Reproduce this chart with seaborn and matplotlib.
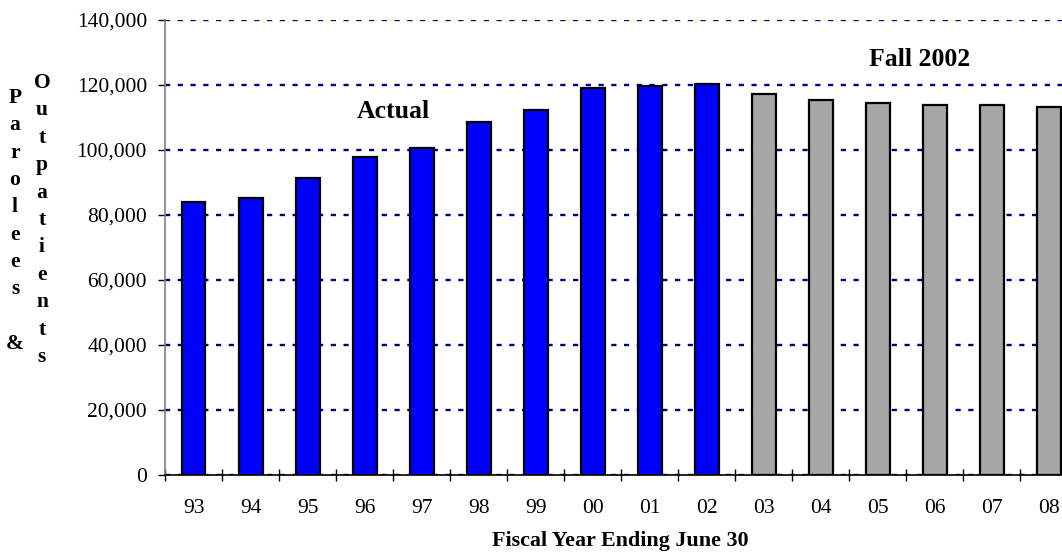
import numpy as np
import pandas as pd
import matplotlib
matplotlib.use("Agg")
import matplotlib.pyplot as plt
from matplotlib.ticker import FuncFormatter
import seaborn as sns

# data
years = ["93", "94", "95", "96", "97", "98", "99", "00",
         "01", "02", "03", "04", "05", "06", "07", "08"]
caseload = [83900, 85200, 91500, 98000, 100700, 108700, 112400, 119200,
            119700, 120400, 117200, 115400, 114400, 113900, 113900, 113200]
kind = ["Actual"] * 10 + ["Projected"] * 6
y_ticks = [0, 20000, 40000, 60000, 80000, 100000, 120000, 140000]

df = pd.DataFrame({"Year": years, "Caseload": caseload, "Kind": kind})

sns.set_style("white")
plt.rcParams["font.family"] = ["Liberation Serif", "DejaVu Serif"]
for key in ["text.color", "axes.labelcolor", "xtick.color", "ytick.color"]:
    plt.rcParams[key] = "black"

W, H = 1062, 559
fig = plt.figure(figsize=(W / 100, H / 100), dpi=100)
ax = fig.add_axes([165 / W, 84 / H, 912.5 / W, 455 / H])

sns.barplot(
    data=df, x="Year", y="Caseload", hue="Kind", order=years,
    palette={"Actual": "#0000ff", "Projected": "#a6a6a6"},
    dodge=False, width=0.42, edgecolor="black", linewidth=1.6,
    saturation=1, errorbar=None, legend=False, ax=ax,
)

ax.set_xlim(-0.5, 15.5)
ax.set_ylim(0, 140000)
ax.set_axisbelow(True)

# gridlines
ax.grid(axis="y", color="#000080", linestyle=(0, (2.2, 3.2)), linewidth=1.7)
ax.grid(axis="x", visible=False)

# x ticks: labels at centres, marks between categories
ax.set_xticks(range(len(years)))
ax.set_xticklabels(years)
ax.set_xticks(np.arange(-0.5, len(years), 1.0), minor=True)
ax.tick_params(axis="x", which="major", length=0, pad=17, labelsize=15.5)
ax.tick_params(axis="x", which="minor", direction="inout", length=9,
               width=1, color="black", bottom=True)

# y ticks
ax.set_yticks(y_ticks)
ax.yaxis.set_major_formatter(FuncFormatter(lambda v, p: f"{v:,.0f}"))
ax.tick_params(axis="y", direction="out", length=5, width=1, color="black",
               pad=8, labelsize=15.5, left=True)

for side in ["top", "right"]:
    ax.spines[side].set_visible(False)
ax.spines["left"].set_color("#808080")
ax.spines["left"].set_linewidth(1.2)
ax.spines["bottom"].set_color("black")
ax.spines["bottom"].set_linewidth(1.2)

ax.set_ylabel("")
ax.set_xlabel("Fiscal Year Ending June 30", fontsize=15.8, fontweight="bold")
ax.xaxis.set_label_coords((620 - 165) / 912.5, (475 - 541) / 455)
ax.xaxis.label.set_va("center")

# annotations
ax.text(3.5, 111700, "Actual", fontsize=18.5, fontweight="bold",
        ha="center", va="center")
ax.text(12.74, 128000, "Fall 2002", fontsize=18.5, fontweight="bold",
        ha="center", va="center")

# stacked vertical y label, two columns
col1 = list("Parolees") + ["", "&"]
col2 = list("Outpatients")
for i, ch in enumerate(col1):
    fig.text(15 / W, 1 - (98 + i * 27.3) / H, ch, fontsize=15.5,
             fontweight="bold", ha="center", va="center")
for i, ch in enumerate(col2):
    fig.text(42 / W, 1 - (83 + i * 27.4) / H, ch, fontsize=15.5,
             fontweight="bold", ha="center", va="center")

fig.savefig("out.png", dpi=100)
